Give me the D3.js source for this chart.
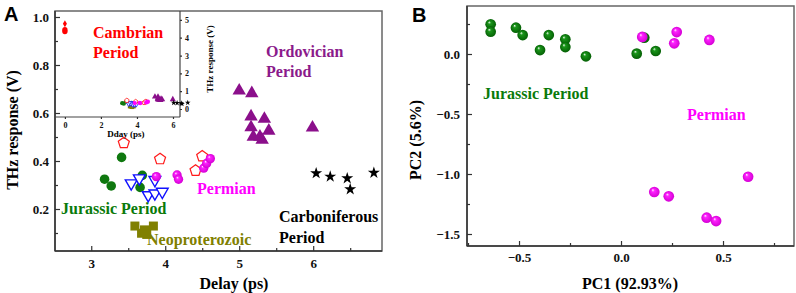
<!DOCTYPE html>
<html>
<head>
<meta charset="utf-8">
<script src="https://cdn.jsdelivr.net/npm/d3@7"></script>
<style>
body { margin: 0; background: #fff; }
</style>
</head>
<body>
<svg width="796" height="293"></svg>
<script>
// panel A: delay (ps) vs THz response (V)
var jurDelay = [3.41, 3.18, 3.27, 3.69, 3.66];
var jurV = [0.415, 0.324, 0.296, 0.34, 0.29];
var triasDelay = [3.54, 3.65, 3.86, 3.77, 3.86, 3.96];
var triasV = [0.307, 0.328, 0.321, 0.258, 0.265, 0.272];
var neoDelay = [3.59, 3.72, 3.84, 3.75, 3.68];
var neoV = [0.129, 0.113, 0.129, 0.094, 0.099];
var pentDelay = [3.44, 3.93, 4.41, 4.5];
var pentV = [0.475, 0.408, 0.36, 0.42];
var permDelay = [3.88, 4.16, 4.18, 4.52, 4.56, 4.61];
var permV = [0.335, 0.342, 0.324, 0.37, 0.39, 0.41];
var ordDelay = [5.0, 5.17, 5.16, 5.34, 5.16, 5.40, 5.19, 5.28, 5.31, 5.99];
var ordV = [0.693, 0.682, 0.585, 0.575, 0.54, 0.526, 0.501, 0.501, 0.488, 0.539];
var carbDelay = [6.04, 6.23, 6.46, 6.50, 6.82];
var carbV = [0.349, 0.335, 0.328, 0.282, 0.351];
var cambDelay = [0, 0, 0];
var cambV = [4.78, 4.45, 4.35];

var xTicksA = [3, 4, 5, 6];
var yTicksA = [0.2, 0.4, 0.6, 0.8, 1.0];
var insetXTicks = [0, 2, 4, 6];
var insetYTicks = [0, 1, 2, 3, 4, 5];

// panel B: PCA scores
var jurPC1 = [-0.639, -0.639, -0.515, -0.482, -0.397, -0.354, -0.273, -0.273, -0.172, 0.077, 0.170, 0.114];
var jurPC2 = [0.248, 0.186, 0.219, 0.158, 0.033, 0.158, 0.123, 0.058, -0.019, 0.003, 0.025, 0.136];
var permPC1 = [0.104, 0.273, 0.261, 0.433, 0.623, 0.163, 0.234, 0.42, 0.466];
var permPC2 = [0.142, 0.183, 0.089, 0.117, -1.023, -1.15, -1.186, -1.364, -1.392];
var xTicksB = [-0.5, 0.0, 0.5];
var yTicksB = [0.0, -0.5, -1.0, -1.5];

var SERIF = "'Liberation Serif', 'Times New Roman', Times, 'DejaVu Serif', serif";

var svg = d3.select("svg");

var defs = svg.append("defs");
function sphere(id, col, dark) {
    var gr = defs.append("radialGradient").attr("id", id).attr("cx", "50%").attr("cy", "50%").attr("r", "50%").attr("fx", "35%").attr("fy", "30%");
    gr.append("stop").attr("offset", "0%").attr("stop-color", "#fff");
    gr.append("stop").attr("offset", "28%").attr("stop-color", col);
    gr.append("stop").attr("offset", "100%").attr("stop-color", dark);
}
sphere("sphG", "#1a961a", "#056005");
sphere("sphM", "#ff22ff", "#d400d4");

var symPentagon = {
    draw: function (ctx, size) {
        var r = Math.sqrt(size / 2.378);
        for (var i = 0; i < 5; i++) {
            var a = -Math.PI / 2 + i * 2 * Math.PI / 5;
            if (i == 0) ctx.moveTo(r * Math.cos(a), r * Math.sin(a));
            else ctx.lineTo(r * Math.cos(a), r * Math.sin(a));
        }
        ctx.closePath();
    }
};

function pts(g, xs, ys, xs_, ys_, type, size, fill, stroke, sw, rot) {
    var data = xs.map(function (d, i) { return [d, ys[i]]; });
    g.selectAll(null).data(data).enter().append("path")
        .attr("d", d3.symbol().type(type).size(size))
        .attr("transform", function (d) { return "translate(" + xs_(d[0]) + "," + ys_(d[1]) + ")" + (rot ? " rotate(" + rot + ")" : ""); })
        .style("fill", fill).style("stroke", stroke).style("stroke-width", sw);
}

function txt(g, x, y, s, col, size) {
    return g.append("text").attr("x", x).attr("y", y).text(s)
        .style("fill", col).style("font-size", size + "px")
        .style("font-family", SERIF).style("font-weight", "bold");
}

function styleAxis(a, fs) {
    a.select(".domain").remove();
    a.selectAll("line").style("stroke", "#333").style("stroke-width", 1.2);
    a.selectAll("text").style("font-size", fs + "px").style("fill", "#111")
        .style("font-family", SERIF).style("font-weight", "bold");
}

// ---------- panel A ----------
var xA = d3.scaleLinear().domain([2.51, 6.93]).range([55, 382]);
var yA = d3.scaleLinear().domain([0.025, 1.025]).range([251, 11]);
var gA = svg.append("g");

gA.append("rect").attr("x", 55).attr("y", 11).attr("width", 327).attr("height", 240)
    .style("fill", "none").style("stroke", "#666").style("stroke-width", 1.5);
gA.append("line").attr("x1", 55).attr("x2", 382).attr("y1", 251).attr("y2", 251).style("stroke", "#333").style("stroke-width", 1.5);
gA.append("line").attr("x1", 55).attr("x2", 55).attr("y1", 11).attr("y2", 251).style("stroke", "#333").style("stroke-width", 1.5);

var axA = gA.append("g").attr("transform", "translate(0,251)")
    .call(d3.axisBottom(xA).tickValues(xTicksA).tickSizeInner(-5).tickSizeOuter(0).tickPadding(8).tickFormat(d3.format("d")));
styleAxis(axA, 13);
var axAm = gA.append("g").attr("transform", "translate(0,251)")
    .call(d3.axisBottom(xA).tickValues([3.5, 4.5, 5.5, 6.5]).tickSizeInner(-3).tickSizeOuter(0).tickFormat(""));
styleAxis(axAm, 13);
var ayA = gA.append("g").attr("transform", "translate(55,0)")
    .call(d3.axisLeft(yA).tickValues(yTicksA).tickSizeInner(-5).tickSizeOuter(0).tickPadding(6).tickFormat(d3.format(".1f")));
styleAxis(ayA, 13);
var ayAm = gA.append("g").attr("transform", "translate(55,0)")
    .call(d3.axisLeft(yA).tickValues([0.1, 0.3, 0.5, 0.7, 0.9]).tickSizeInner(-3).tickSizeOuter(0).tickFormat(""));
styleAxis(ayAm, 13);

pts(gA, neoDelay, neoV, xA, yA, d3.symbolSquare, 81, "#808000", "none", 0);
pts(gA, jurDelay, jurV, xA, yA, d3.symbolCircle, 72, "#0f780f", "none", 0);
pts(gA, triasDelay, triasV, xA, yA, d3.symbolTriangle, 60, "#fff", "#1010ff", 1.4, 180);
pts(gA, pentDelay, pentV, xA, yA, symPentagon, 80, "#fff", "#ff1a1a", 1.2);
pts(gA, permDelay, permV, xA, yA, d3.symbolCircle, 68, "url(#sphM)", "none", 0);
pts(gA, ordDelay, ordV, xA, yA, d3.symbolTriangle, 78, "#8b0f8b", "none", 0);
pts(gA, carbDelay, carbV, xA, yA, d3.symbolStar, 45, "#000", "none", 0);

txt(gA, 93, 38, "Cambrian", "#ff0000", 16);
txt(gA, 93, 58, "Period", "#ff0000", 16);
txt(gA, 266, 57, "Ordovician", "#8b1a8b", 16);
txt(gA, 266, 77, "Period", "#8b1a8b", 16);
txt(gA, 61, 214, "Jurassic Period", "#0a7a0a", 16);
txt(gA, 147, 245, "Neoproterozoic", "#808000", 16);
txt(gA, 197, 194, "Permian", "#ff00ff", 16);
txt(gA, 279, 222, "Carboniferous", "#000", 16);
txt(gA, 279, 243, "Period", "#000", 16);

txt(gA, 234, 289, "Delay (ps)", "#000", 16).attr("text-anchor", "middle");
txt(gA, 0, 0, "THz response (V)", "#000", 16).attr("transform", "translate(18,130) rotate(-90)").attr("text-anchor", "middle");
txt(gA, 4, 21, "A", "#000", 20).style("font-family", "'Liberation Sans', Arial, sans-serif");

// inset
var xI = d3.scaleLinear().domain([-0.55, 6.39]).range([55, 180]);
var yI = d3.scaleLinear().domain([-0.45, 5.5]).range([117, 11]);
var gI = svg.append("g");
gI.append("line").attr("x1", 55).attr("x2", 180).attr("y1", 117).attr("y2", 117).style("stroke", "#444").style("stroke-width", 1.2);
gI.append("line").attr("x1", 180).attr("x2", 180).attr("y1", 11).attr("y2", 117).style("stroke", "#444").style("stroke-width", 1.2);
var axI = gI.append("g").attr("transform", "translate(0,117)")
    .call(d3.axisBottom(xI).tickValues(insetXTicks).tickSizeInner(2).tickSizeOuter(0).tickPadding(3).tickFormat(d3.format("d")));
styleAxis(axI, 8);
var ayI = gI.append("g").attr("transform", "translate(180,0)")
    .call(d3.axisRight(yI).tickValues(insetYTicks).tickSizeInner(2).tickSizeOuter(0).tickPadding(3).tickFormat(d3.format("d")));
styleAxis(ayI, 8);

pts(gI, neoDelay, neoV, xI, yI, d3.symbolSquare, 12, "#808000", "none", 0);
pts(gI, jurDelay, jurV, xI, yI, d3.symbolCircle, 14, "#0f780f", "none", 0);
pts(gI, triasDelay, triasV, xI, yI, d3.symbolTriangle, 12, "#fff", "#1010ff", 0.8, 180);
pts(gI, pentDelay, pentV, xI, yI, symPentagon, 14, "#fff", "#ff1a1a", 0.8);
pts(gI, permDelay, permV, xI, yI, d3.symbolCircle, 14, "#ff00ff", "none", 0);
pts(gI, ordDelay, ordV, xI, yI, d3.symbolTriangle, 16, "#8b0f8b", "none", 0);
pts(gI, carbDelay, carbV, xI, yI, d3.symbolStar, 10, "#000", "none", 0);
pts(gI, cambDelay.slice(0, 1), cambV.slice(0, 1), xI, yI, d3.symbolDiamond, 14, "#ff0000", "none", 0);
pts(gI, cambDelay.slice(1), cambV.slice(1), xI, yI, d3.symbolCircle, 22, "#ff0000", "none", 0);

txt(gI, 126, 137, "Dday (ps)", "#000", 9).attr("text-anchor", "middle");
txt(gI, 0, 0, "THz response (V)", "#000", 9).attr("transform", "translate(213,59) rotate(-90)").attr("text-anchor", "middle");

// ---------- panel B ----------
var xB = d3.scaleLinear().domain([-0.755, 0.848]).range([467, 794]);
var yB = d3.scaleLinear().domain([-1.6, 0.4]).range([246, 6]);
var gB = svg.append("g");

gB.append("rect").attr("x", 467).attr("y", 6).attr("width", 327).attr("height", 240)
    .style("fill", "none").style("stroke", "#666").style("stroke-width", 1.5);
gB.append("line").attr("x1", 467).attr("x2", 794).attr("y1", 246).attr("y2", 246).style("stroke", "#333").style("stroke-width", 1.5);
gB.append("line").attr("x1", 467).attr("x2", 467).attr("y1", 6).attr("y2", 246).style("stroke", "#333").style("stroke-width", 1.5);

var axB = gB.append("g").attr("transform", "translate(0,246)")
    .call(d3.axisBottom(xB).tickValues(xTicksB).tickSizeInner(-5).tickSizeOuter(0).tickPadding(7).tickFormat(d3.format(".1f")));
styleAxis(axB, 13);
var axBm = gB.append("g").attr("transform", "translate(0,246)")
    .call(d3.axisBottom(xB).tickValues([-0.75, -0.25, 0.25, 0.75]).tickSizeInner(-3).tickSizeOuter(0).tickFormat(""));
styleAxis(axBm, 13);
var ayB = gB.append("g").attr("transform", "translate(467,0)")
    .call(d3.axisLeft(yB).tickValues(yTicksB).tickSizeInner(-5).tickSizeOuter(0).tickPadding(7).tickFormat(d3.format(".1f")));
styleAxis(ayB, 13);
var ayBm = gB.append("g").attr("transform", "translate(467,0)")
    .call(d3.axisLeft(yB).tickValues([0.25, -0.25, -0.75, -1.25]).tickSizeInner(-3).tickSizeOuter(0).tickFormat(""));
styleAxis(ayBm, 13);

pts(gB, jurPC1, jurPC2, xB, yB, d3.symbolCircle, 90, "url(#sphG)", "none", 0);
pts(gB, permPC1, permPC2, xB, yB, d3.symbolCircle, 90, "url(#sphM)", "none", 0);

txt(gB, 483, 99, "Jurassic Period", "#0a7a0a", 16);
txt(gB, 687, 120, "Permian", "#ff00ff", 16);

txt(gB, 630, 289, "PC1 (92.93%)", "#000", 16).attr("text-anchor", "middle");
txt(gB, 0, 0, "PC2 (5.6%)", "#000", 16).attr("transform", "translate(421,140) rotate(-90)").attr("text-anchor", "middle");
txt(gB, 412, 22, "B", "#000", 20).style("font-family", "'Liberation Sans', Arial, sans-serif");
</script>
</body>
</html>
